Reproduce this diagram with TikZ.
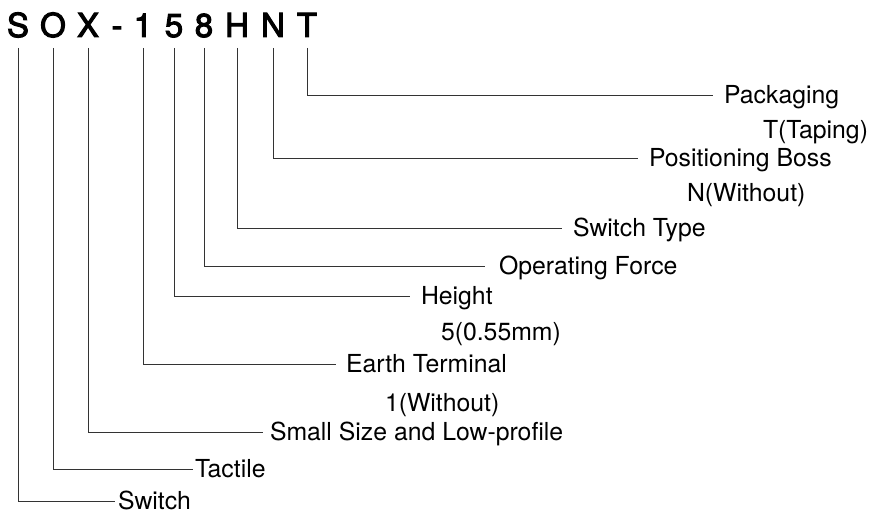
\documentclass[tikz,border=0pt]{standalone}
\usepackage{fontspec}
\setmainfont{TeX Gyre Heros}
\newfontfamily\partfont[FakeBold=3]{TeX Gyre Heros}
\usetikzlibrary{calc}

\begin{document}
\begin{tikzpicture}[x=1pt,y=-1pt,
  letter/.style={anchor=base, inner sep=0pt, outer ysep=11pt, text depth=0pt, font=\partfont\fontsize{33}{40}\selectfont},
  lbl/.style={anchor=west, inner sep=0pt, outer xsep=11pt, text height=17.5pt, text depth=0pt, font=\fontsize{24.8}{29}\selectfont},
  sub/.style={lbl, outer xsep=0pt}]
\useasboundingbox (0,0) rectangle (869,513);
% part number, one node per character
\foreach \c/\x/\n in {S/18/s, O/53/o, X/88/x, -/117/hy, 1/143/one, 5/174/five, 8/204/eight, H/237/h, N/273/n, T/307/t}
  \node[letter] (\n) at (\x,37) {\c};
% labels
\node[lbl] (pack) at (713,95) {Packaging};
\node[sub] (packv) at (763,130) {T(Taping)};
\node[lbl] (boss) at (638,158) {Positioning Boss};
\node[sub] (bossv) at (687,193) {N(Without)};
\node[lbl] (type) at (562,228) {Switch Type};
\node[lbl, outer xsep=14pt] (force) at (485,266) {Operating Force};
\node[lbl] (height) at (410,296) {Height};
\node[sub] (heightv) at (441,332) {5(0.55mm)};
\node[lbl, outer xsep=10pt] (earth) at (336,364) {Earth Terminal};
\node[sub] (earthv) at (385,403) {1(Without)};
\node[lbl, outer xsep=7pt] (small) at (263,432) {Small Size and Low-profile};
\node[lbl, outer xsep=2pt] (tact) at (193,469) {Tactile};
\node[lbl, outer xsep=3pt] (sw) at (115,501) {Switch};
% leaders
\draw[black!80, line width=0.9pt] (t.south) |- (pack.west);
\draw[black!80, line width=0.9pt] (n.south) |- (boss.west);
\draw[black!80, line width=0.9pt] (h.south) |- (type.west);
\draw[black!80, line width=0.9pt] (eight.south) |- (force.west);
\draw[black!80, line width=0.9pt] (five.south) |- (height.west);
\draw[black!80, line width=0.9pt] (one.south) |- (earth.west);
\draw[black!80, line width=0.9pt] (x.south) |- (small.west);
\draw[black!80, line width=0.9pt] (o.south) |- (tact.west);
\draw[black!80, line width=0.9pt] (s.south) |- (sw.west);
\end{tikzpicture}
\end{document}
